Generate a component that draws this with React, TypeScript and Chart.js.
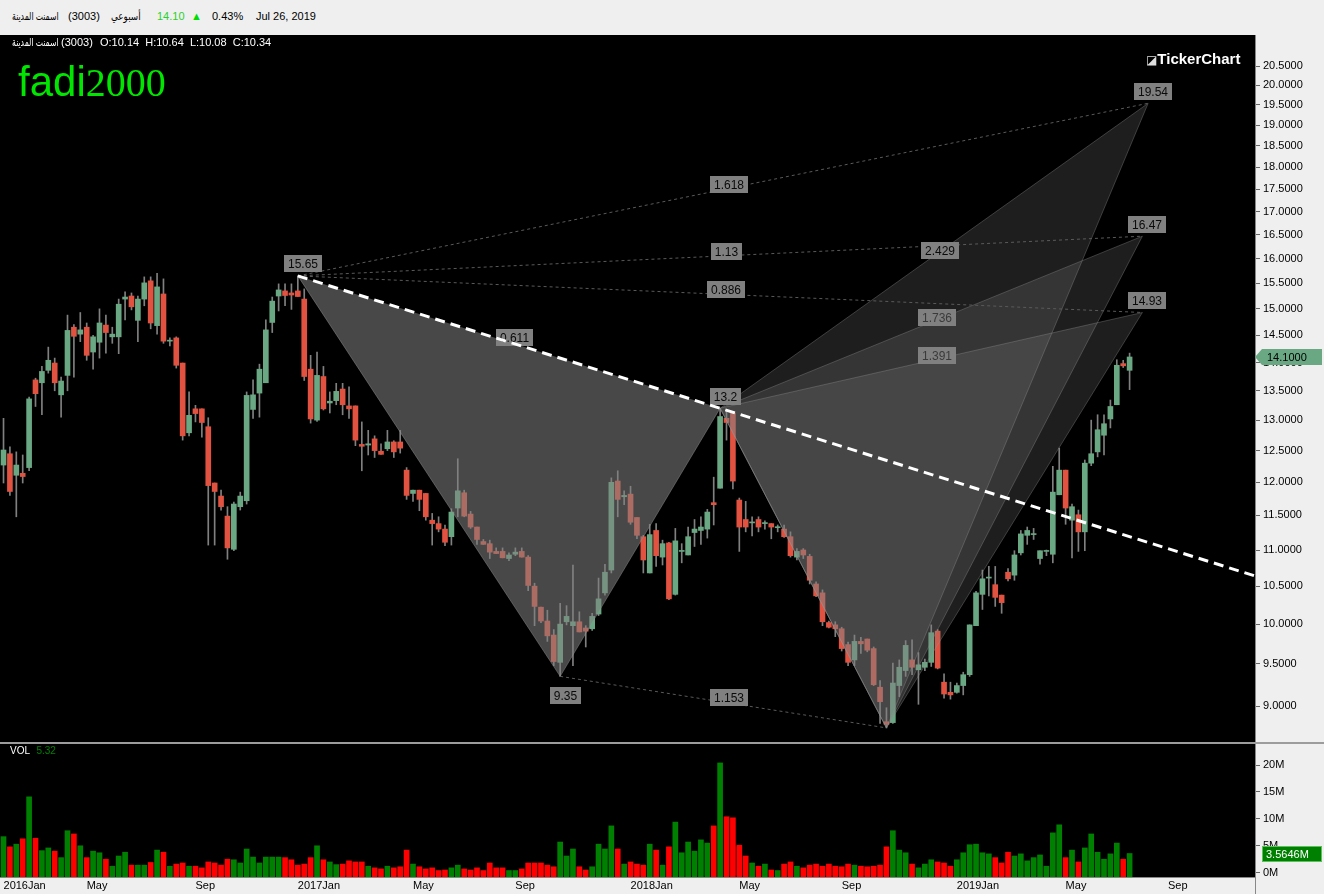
import React, { useEffect, useRef } from "react";
import { Chart, registerables } from "chart.js";

Chart.register(...registerables);

const FONT = '"Liberation Sans", "DejaVu Sans", Arial, sans-serif';

// ---------- weekly OHLC + volume (millions) ----------
const opens = [
  12.27, 12.45, 12.11, 12.14, 12.23, 13.69, 13.64, 13.86, 13.99, 13.43,
  13.77, 14.65, 14.52, 14.65, 14.19, 14.37, 14.69, 14.47, 14.47, 15.19,
  15.25, 14.78, 15.19, 15.55, 14.68, 15.29, 14.39, 14.45, 13.99, 12.79,
  13.19, 13.19, 12.89, 11.99, 11.79, 11.49, 11.01, 11.63, 11.72, 13.18,
  13.46, 13.64, 14.74, 15.25, 15.35, 15.31, 15.35, 15.19, 13.88, 13.0,
  13.75, 13.29, 13.33, 13.53, 13.24, 13.24, 12.6, 12.59, 12.69, 12.49,
  12.53, 12.64, 12.64, 12.19, 11.83, 11.88, 11.83, 11.43, 11.38, 11.3,
  11.19, 11.61, 11.84, 11.52, 11.33, 11.12, 11.09, 10.98, 10.98, 10.88,
  10.94, 10.98, 10.9, 10.5, 10.22, 10.04, 9.86, 9.52, 10.03, 9.98,
  10.03, 9.95, 9.94, 10.13, 10.41, 10.72, 12.02, 11.78, 11.82, 11.47,
  11.19, 10.68, 11.28, 10.9, 11.1, 10.39, 10.98, 10.93, 11.25, 11.28,
  11.3, 11.69, 11.91, 13.03, 13.12, 11.73, 11.44, 11.39, 11.44, 11.38,
  11.38, 11.32, 11.3, 11.19, 10.9, 11.0, 10.91, 10.53, 10.41, 10.02,
  9.99, 9.94, 9.74, 9.55, 9.78, 9.81, 9.69, 9.22, 8.82, 8.81,
  9.24, 9.42, 9.55, 9.43, 9.46, 9.52, 9.91, 9.28, 9.16, 9.16,
  9.24, 9.37, 9.98, 10.39, 10.61, 10.52, 10.38, 10.69, 10.65, 10.96,
  11.21, 11.22, 10.88, 10.98, 10.94, 11.81, 12.19, 11.43, 11.51, 11.26,
  12.3, 12.48, 12.75, 13.02, 13.26, 13.98, 13.86,
];
const highs = [
  13.03, 12.56, 12.48, 12.43, 13.39, 13.72, 13.93, 14.28, 14.08, 13.74,
  14.88, 14.7, 14.93, 14.73, 14.5, 15.0, 14.88, 14.65, 15.19, 15.33,
  15.31, 15.25, 15.63, 15.63, 15.7, 15.59, 14.45, 14.47, 13.99, 13.48,
  13.25, 13.19, 13.04, 11.99, 11.88, 11.63, 11.7, 11.85, 13.48, 13.69,
  13.97, 14.79, 15.23, 15.49, 15.49, 15.49, 15.65, 15.39, 14.13, 14.19,
  13.93, 13.48, 13.63, 13.63, 13.57, 13.24, 12.97, 12.83, 12.74, 12.61,
  12.83, 12.66, 12.83, 12.23, 11.88, 11.88, 11.83, 11.53, 11.48, 11.36,
  11.6, 12.37, 11.88, 11.56, 11.33, 11.15, 11.14, 11.03, 11.03, 10.96,
  11.03, 11.03, 10.92, 10.54, 10.22, 10.18, 9.93, 10.27, 10.24, 10.79,
  10.16, 9.98, 10.14, 10.61, 10.8, 12.07, 12.18, 11.87, 11.94, 11.47,
  11.21, 11.37, 11.38, 11.14, 11.11, 11.31, 11.09, 11.33, 11.44, 11.48,
  11.59, 12.08, 13.2, 13.17, 13.12, 11.76, 11.71, 11.48, 11.48, 11.42,
  11.38, 11.36, 11.36, 11.26, 11.02, 11.02, 10.94, 10.56, 10.45, 10.04,
  10.03, 9.96, 9.77, 9.86, 9.83, 9.81, 9.71, 9.3, 8.98, 9.51,
  9.55, 9.79, 9.8, 9.64, 9.56, 9.99, 9.93, 9.38, 9.28, 9.27,
  9.4, 9.99, 10.43, 10.72, 10.77, 10.77, 10.38, 10.74, 10.99, 11.28,
  11.33, 11.31, 10.99, 11.0, 12.25, 12.54, 12.19, 11.67, 11.58, 12.35,
  13.0, 13.09, 13.09, 13.34, 14.05, 14.04, 14.17,
];
const lows = [
  11.99, 11.8, 11.48, 11.99, 12.18, 13.23, 13.09, 13.81, 13.5, 13.05,
  13.5, 13.74, 14.38, 14.04, 13.88, 14.08, 14.17, 14.35, 14.16, 14.79,
  14.98, 14.38, 15.06, 14.62, 14.52, 14.35, 14.3, 13.9, 12.67, 12.74,
  12.97, 12.72, 11.07, 11.07, 11.58, 10.87, 10.99, 11.58, 11.67, 13.03,
  13.05, 13.64, 14.55, 14.96, 15.06, 14.99, 15.24, 13.68, 12.95, 12.98,
  13.17, 13.12, 13.26, 13.09, 13.03, 12.58, 12.18, 12.43, 12.39, 12.44,
  12.5, 12.39, 12.46, 11.74, 11.71, 11.57, 11.43, 11.07, 11.26, 11.06,
  11.07, 11.48, 11.48, 11.31, 11.08, 11.08, 10.88, 10.95, 10.89, 10.85,
  10.92, 10.9, 10.44, 9.98, 10.02, 9.78, 9.48, 9.35, 9.99, 9.48,
  9.9, 9.71, 9.92, 10.11, 10.38, 10.68, 11.48, 11.66, 11.37, 11.16,
  10.68, 10.68, 10.77, 10.79, 10.32, 10.38, 10.82, 10.93, 11.05, 11.08,
  11.17, 11.36, 11.91, 12.67, 11.9, 10.98, 11.26, 11.2, 11.26, 11.3,
  11.16, 11.26, 11.18, 10.9, 10.86, 10.88, 10.53, 10.36, 9.98, 9.95,
  9.84, 9.66, 9.48, 9.48, 9.63, 9.65, 9.24, 8.8, 8.75, 8.8,
  9.11, 9.35, 9.37, 9.02, 9.42, 9.47, 9.44, 9.09, 9.08, 9.15,
  9.13, 9.35, 9.98, 10.19, 10.37, 10.23, 10.14, 10.57, 10.58, 10.93,
  11.08, 11.15, 10.8, 10.92, 10.82, 11.81, 11.37, 10.89, 10.98, 10.99,
  12.26, 12.4, 12.43, 12.87, 13.26, 13.91, 13.52,
];
const closes = [
  12.51, 11.86, 12.27, 12.09, 13.36, 13.45, 13.84, 14.04, 13.64, 13.67,
  14.59, 14.48, 14.6, 14.13, 14.47, 14.73, 14.55, 14.52, 15.09, 15.23,
  15.04, 15.19, 15.51, 14.73, 15.43, 14.39, 14.39, 13.95, 12.74, 13.08,
  13.11, 12.96, 11.95, 11.86, 11.63, 11.03, 11.67, 11.79, 13.42, 13.43,
  13.88, 14.6, 15.15, 15.37, 15.26, 15.27, 15.24, 13.75, 13.02, 13.77,
  13.19, 13.32, 13.49, 13.26, 13.19, 12.67, 12.57, 12.61, 12.5, 12.44,
  12.64, 12.48, 12.54, 11.8, 11.88, 11.74, 11.48, 11.38, 11.3, 11.11,
  11.55, 11.87, 11.49, 11.33, 11.15, 11.08, 10.97, 10.95, 10.89, 10.93,
  10.97, 10.9, 10.51, 10.23, 10.04, 9.85, 9.53, 10.0, 10.1, 10.03,
  9.9, 9.91, 10.1, 10.33, 10.69, 12.0, 11.74, 11.8, 11.4, 11.21,
  10.86, 11.22, 10.92, 11.09, 10.33, 11.13, 10.99, 11.19, 11.3, 11.33,
  11.55, 11.66, 13.06, 12.96, 12.02, 11.33, 11.33, 11.4, 11.33, 11.39,
  11.33, 11.33, 11.19, 10.92, 10.98, 10.93, 10.58, 10.37, 10.03, 9.96,
  9.94, 9.69, 9.52, 9.78, 9.75, 9.67, 9.25, 9.05, 8.79, 9.27,
  9.46, 9.73, 9.46, 9.49, 9.52, 9.89, 9.45, 9.14, 9.13, 9.24,
  9.37, 9.99, 10.41, 10.6, 10.62, 10.35, 10.28, 10.6, 10.93, 11.23,
  11.28, 11.23, 10.99, 10.98, 11.85, 12.19, 11.61, 11.63, 11.26, 12.3,
  12.45, 12.84, 12.94, 13.23, 13.95, 13.94, 14.1,
];
const volumesM = [
  6.7, 4.8, 5.3, 6.3, 14.1, 6.4, 4.1, 4.6, 4.0, 2.8,
  7.8, 7.2, 5.0, 2.8, 4.0, 3.7, 2.5, 1.2, 3.1, 3.8,
  1.4, 1.4, 1.4, 1.9, 4.2, 3.8, 1.2, 1.6, 1.8, 1.2,
  1.2, 0.9, 2.0, 1.8, 1.4, 2.5, 2.4, 1.8, 4.4, 2.9,
  1.8, 2.9, 2.9, 2.9, 2.8, 2.4, 1.4, 1.6, 2.8, 5.0,
  2.4, 2.0, 1.5, 1.6, 2.2, 2.0, 2.0, 1.2, 0.9, 0.7,
  1.2, 0.9, 1.1, 4.2, 1.6, 1.1, 0.7, 0.9, 0.4, 0.5,
  0.9, 1.4, 0.7, 0.5, 0.9, 0.4, 1.8, 0.9, 0.9, 0.4,
  0.4, 0.7, 1.8, 1.8, 1.8, 1.4, 1.1, 5.7, 3.1, 4.4,
  1.1, 0.5, 1.1, 5.3, 4.4, 8.7, 4.4, 1.6, 2.0, 1.6,
  1.4, 5.3, 4.2, 1.4, 4.8, 9.4, 3.7, 5.7, 4.0, 6.1,
  5.5, 8.7, 20.4, 10.4, 10.2, 5.1, 3.1, 1.8, 1.2, 1.6,
  0.5, 0.4, 1.6, 2.0, 1.2, 0.9, 1.4, 1.6, 1.2, 1.6,
  1.2, 1.1, 1.6, 1.4, 1.2, 1.1, 1.2, 1.4, 4.8, 7.8,
  4.2, 3.7, 1.6, 0.9, 1.6, 2.4, 2.0, 1.8, 1.2, 2.4,
  3.7, 5.2, 5.3, 3.7, 3.5, 2.8, 1.8, 3.8, 3.1, 3.5,
  2.2, 2.8, 3.3, 1.2, 7.4, 8.9, 2.8, 4.2, 2.0, 4.6,
  7.2, 3.8, 2.5, 3.5, 5.5, 2.5, 3.5646,
];

// ---------- axis ticks ----------
const monthTickIdx = [0, 13, 30, 46, 64, 80, 98, 115, 131, 149, 166, 182];
const monthTickLabels = ["2016Jan", "May", "Sep", "2017Jan", "May", "Sep", "2018Jan", "May", "Sep", "2019Jan", "May", "Sep"];
const priceTicks = [9, 9.5, 10, 10.5, 11, 11.5, 12, 12.5, 13, 13.5, 14, 14.5, 15, 15.5, 16, 16.5, 17, 17.5, 18, 18.5, 19, 19.5, 20, 20.5];
const volTicksM = [0, 5, 10, 15, 20];

// ---------- harmonic pattern ----------
const pivotIdx = [46, 87, 112, 138]; // X, A, B, C
const pivotPrice = [15.65, 9.35, 13.2, 8.75];
const targetIdx = [178.9, 178, 178]; // D projections
const targetPrice = [19.54, 16.47, 14.93];
const xdRatios = ["1.618", "1.13", "0.886"];
const bdRatios = ["2.429", "1.736", "1.391"];
const xbRatio = "0.611";
const acRatio = "1.153";

// ---------- axis ranges ----------
const X_MIN = -0.55;
const X_MAX = 195.6;
const P_MIN = 8.593;
const P_MAX = 21.334;
const V_MIN = -0.8;
const V_MAX = 23.92;

const GREEN = "#69a883";
const RED = "#e25240";
const WICK = "#808080";

const n = closes.length;
const idx = closes.map((_, i) => i);
const isUp = idx.map((i) => closes[i] >= opens[i]);

const P = (x: number, y: number) => ({ x, y });
const ptX = P(pivotIdx[0], pivotPrice[0]);
const ptA = P(pivotIdx[1], pivotPrice[1]);
const ptB = P(pivotIdx[2], pivotPrice[2]);
const ptC = P(pivotIdx[3], pivotPrice[3]);
const ptD = targetIdx.map((x, k) => P(x, targetPrice[k]));

const trendSlope = (Math.log(ptB.y) - Math.log(ptX.y)) / (ptB.x - ptX.x);
const trendEnd = P(X_MAX, Math.exp(Math.log(ptX.y) + trendSlope * (X_MAX - ptX.x)));

const bgPlugin = {
  id: "bgPlugin",
  beforeDraw(chart: any) {
    const { ctx, chartArea: a } = chart;
    ctx.save();
    ctx.fillStyle = "#efefef";
    ctx.fillRect(0, 0, chart.width, chart.height);
    ctx.fillStyle = "#000";
    ctx.fillRect(a.left, a.top, a.right - a.left, a.bottom - a.top);
    ctx.restore();
  },
};

function labelBox(ctx: any, text: string, cx: number, cy: number, color = "#0a0a0a") {
  ctx.font = `12px ${FONT}`;
  const w = Math.round(ctx.measureText(text).width + 8);
  const h = 17;
  const l = Math.round(cx - w / 2);
  const t = Math.round(cy - h / 2);
  ctx.fillStyle = "#808080";
  ctx.fillRect(l, t, w, h);
  ctx.fillStyle = color;
  ctx.textAlign = "center";
  ctx.textBaseline = "middle";
  ctx.fillText(text, l + w / 2, t + h / 2 + 1);
}

function drawPatternLabels(chart: any) {
  const xs = chart.scales.x;
  const ys = chart.scales.y;
  const ctx = chart.ctx;
  const px = (p: any) => ({ x: xs.getPixelForValue(p.x), y: ys.getPixelForValue(p.y) });
  const mid = (a: any, b: any) => {
    const pa = px(a);
    const pb = px(b);
    return { x: (pa.x + pb.x) / 2 + 6, y: (pa.y + pb.y) / 2 - 5 };
  };
  ctx.save();
  let m = mid(ptX, ptB);
  labelBox(ctx, xbRatio, m.x, m.y);
  xdRatios.forEach((r, k) => {
    const q = mid(ptX, ptD[k]);
    labelBox(ctx, r, q.x, q.y);
  });
  bdRatios.forEach((r, k) => {
    const q = mid(ptB, ptD[k]);
    labelBox(ctx, r, q.x, q.y, k === 0 ? "#0a0a0a" : "#3a3a3a");
  });
  m = mid(ptA, ptC);
  labelBox(ctx, acRatio, m.x, m.y);
  const above = [ptX, ptB, ...ptD];
  above.forEach((p) => {
    const q = px(p);
    labelBox(ctx, String(p.y), q.x + 5, q.y - 12);
  });
  const qa = px(ptA);
  labelBox(ctx, String(ptA.y), qa.x + 5, qa.y + 19);
  ctx.restore();
}

const lineBase = { type: "line", pointRadius: 0, pointHoverRadius: 0, tension: 0 };

function priceConfig(): any {
  const datasets: any[] = [
    {
      type: "bar",
      data: idx.map((i) => ({ x: i, y: [lows[i], highs[i]] })),
      backgroundColor: WICK,
      barThickness: 1,
      grouped: false,
      order: 20,
    },
    {
      type: "bar",
      data: idx.map((i) => ({ x: i, y: [opens[i], closes[i]] })),
      backgroundColor: idx.map((i) => (isUp[i] ? GREEN : RED)),
      barThickness: 5,
      minBarLength: 1,
      grouped: false,
      order: 19,
    },
    {
      ...lineBase,
      data: [ptX, ptA, ptB],
      fill: "shape",
      backgroundColor: "rgba(128,128,128,0.56)",
      borderColor: "rgba(150,150,150,0.45)",
      borderWidth: 1,
      order: 10,
    },
    ...ptD.map((d) => ({
      ...lineBase,
      data: [ptB, ptC, d],
      fill: "shape",
      backgroundColor: "rgba(128,128,128,0.23)",
      borderColor: "rgba(150,150,150,0.35)",
      borderWidth: 1,
      order: 10,
    })),
    ...ptD.map((d) => ({
      ...lineBase,
      data: [ptB, d],
      fill: false,
      borderColor: "rgba(150,150,150,0.35)",
      borderWidth: 1,
      order: 9,
    })),
    ...ptD.map((d) => ({
      ...lineBase,
      data: [ptX, d],
      fill: false,
      borderColor: "#5a5a5a",
      borderWidth: 1,
      borderDash: [3, 3],
      order: 8,
    })),
    {
      ...lineBase,
      data: [ptA, ptC],
      fill: false,
      borderColor: "#5a5a5a",
      borderWidth: 1,
      borderDash: [3, 3],
      order: 8,
    },
  ];
  const trendIndex = datasets.length;
  datasets.push({
    ...lineBase,
    data: [ptX, trendEnd],
    fill: false,
    borderColor: "#ffffff",
    borderWidth: 3,
    borderDash: [10, 6],
    order: 1,
  });

  const labelsPlugin = {
    id: "patternLabels",
    beforeDatasetDraw(chart: any, args: any) {
      if (args.index === trendIndex) drawPatternLabels(chart);
    },
  };

  const markerPlugin = {
    id: "priceMarker",
    afterDraw(chart: any) {
      const { ctx } = chart;
      const y = chart.scales.y.getPixelForValue(closes[n - 1]);
      const x0 = chart.chartArea.right;
      ctx.save();
      ctx.fillStyle = GREEN;
      ctx.beginPath();
      ctx.moveTo(x0, y);
      ctx.lineTo(x0 + 7, y - 8);
      ctx.lineTo(x0 + 67, y - 8);
      ctx.lineTo(x0 + 67, y + 8);
      ctx.lineTo(x0 + 7, y + 8);
      ctx.closePath();
      ctx.fill();
      ctx.fillStyle = "#000";
      ctx.font = `11px ${FONT}`;
      ctx.textAlign = "left";
      ctx.textBaseline = "middle";
      ctx.fillText(closes[n - 1].toFixed(4), x0 + 12, y + 1);
      ctx.restore();
    },
  };

  return {
    type: "bar",
    data: { datasets },
    options: {
      animation: false,
      responsive: false,
      devicePixelRatio: 1,
      events: [],
      layout: { padding: 0 },
      plugins: { legend: { display: false }, tooltip: { enabled: false } },
      scales: {
        x: {
          type: "linear",
          min: X_MIN,
          max: X_MAX,
          offset: false,
          display: false,
        },
        y: {
          type: "logarithmic",
          position: "right",
          min: P_MIN,
          max: P_MAX,
          afterBuildTicks: (s: any) => {
            s.ticks = priceTicks.map((v) => ({ value: v }));
          },
          afterFit: (s: any) => {
            s.width = 69;
            s.paddingTop = 0;
            s.paddingBottom = 0;
          },
          grid: { drawOnChartArea: false, drawTicks: true, tickLength: 5, color: "#666" },
          border: { display: true, color: "#888" },
          ticks: {
            padding: 3,
            color: "#000",
            font: { family: FONT, size: 11 },
            autoSkip: false,
            callback: (v: any) => Number(v).toFixed(4),
          },
        },
      },
    },
    plugins: [bgPlugin, labelsPlugin, markerPlugin],
  };
}

function volConfig(): any {
  const markerPlugin = {
    id: "volMarker",
    afterDraw(chart: any) {
      const { ctx } = chart;
      const y = chart.scales.y.getPixelForValue(volumesM[n - 1]);
      const x0 = chart.chartArea.right;
      ctx.save();
      ctx.fillStyle = "#008000";
      ctx.fillRect(x0 + 7, Math.round(y - 8), 60, 16);
      ctx.strokeStyle = "#5fbf5f";
      ctx.lineWidth = 1;
      ctx.strokeRect(x0 + 7.5, Math.round(y - 8) + 0.5, 59, 15);
      ctx.fillStyle = "#fff";
      ctx.font = `11px ${FONT}`;
      ctx.textAlign = "left";
      ctx.textBaseline = "middle";
      ctx.fillText(volumesM[n - 1].toFixed(4) + "M", x0 + 11, y + 1);
      ctx.restore();
    },
  };
  return {
    type: "bar",
    data: {
      datasets: [
        {
          data: idx.map((i) => ({ x: i, y: volumesM[i] })),
          backgroundColor: idx.map((i) => (isUp[i] ? "#008000" : "#ff0000")),
          barThickness: 5,
          base: V_MIN,
          grouped: false,
        },
      ],
    },
    options: {
      animation: false,
      responsive: false,
      devicePixelRatio: 1,
      events: [],
      layout: { padding: 0 },
      plugins: { legend: { display: false }, tooltip: { enabled: false } },
      scales: {
        x: {
          type: "linear",
          min: X_MIN,
          max: X_MAX,
          offset: false,
          grid: { display: false, drawTicks: false, tickLength: 0 },
          border: { display: true, color: "#888" },
          afterBuildTicks: (s: any) => {
            s.ticks = monthTickIdx.map((v) => ({ value: v }));
          },
          afterFit: (s: any) => {
            s.height = 17;
            s.paddingLeft = 0;
            s.paddingRight = 0;
          },
          ticks: {
            autoSkip: false,
            maxRotation: 0,
            minRotation: 0,
            align: "start",
            padding: 2,
            color: "#000",
            font: { family: FONT, size: 11 },
            callback: (_v: any, i: number) => monthTickLabels[i],
          },
        },
        y: {
          type: "linear",
          position: "right",
          min: V_MIN,
          max: V_MAX,
          afterBuildTicks: (s: any) => {
            s.ticks = volTicksM.map((v) => ({ value: v }));
          },
          afterFit: (s: any) => {
            s.width = 69;
            s.paddingTop = 0;
            s.paddingBottom = 0;
          },
          grid: { drawOnChartArea: false, drawTicks: true, tickLength: 5, color: "#666" },
          border: { display: true, color: "#888" },
          ticks: {
            padding: 3,
            color: "#000",
            font: { family: FONT, size: 11 },
            autoSkip: false,
            callback: (v: any) => `${v}M`,
          },
        },
      },
    },
    plugins: [bgPlugin, markerPlugin],
  };
}

const abs = (left: number, top: number, extra: any = {}) => ({
  position: "absolute" as const,
  left,
  top,
  whiteSpace: "pre" as const,
  ...extra,
});

const squeeze = (k: number) => ({
  display: "inline-block",
  transform: `scaleX(${k})`,
  transformOrigin: "left center",
});

export default function App() {
  const priceRef = useRef<HTMLCanvasElement>(null);
  const volRef = useRef<HTMLCanvasElement>(null);

  useEffect(() => {
    const pc = new Chart(priceRef.current as HTMLCanvasElement, priceConfig());
    const vc = new Chart(volRef.current as HTMLCanvasElement, volConfig());
    return () => {
      pc.destroy();
      vc.destroy();
    };
  }, []);

  const hdr = { fontSize: 11, lineHeight: "14px", color: "#000" };
  const ovl = { fontSize: 11, lineHeight: "14px", color: "#fff" };

  return (
    <div
      style={{
        position: "absolute",
        left: 0,
        top: 0,
        width: 1324,
        height: 894,
        background: "#efefef",
        overflow: "hidden",
        fontFamily: FONT,
      }}
    >
      {/* header bar */}
      <div style={abs(12, 9, { ...hdr, ...squeeze(0.7) })} dir="rtl">اسمنت المدينة</div>
      <div style={abs(68, 9, hdr)}>(3003)</div>
      <div style={abs(111, 9, { ...hdr, ...squeeze(0.8) })} dir="rtl">أسبوعي</div>
      <div style={abs(157, 9, { ...hdr, color: "#2ccf2c" })}>{closes[n - 1].toFixed(2)}</div>
      <div style={abs(191, 9, { ...hdr, color: "#00dd00" })}>▲</div>
      <div style={abs(212, 9, hdr)}>0.43%</div>
      <div style={abs(256, 9, hdr)}>Jul 26, 2019</div>

      <canvas
        ref={priceRef}
        width={1324}
        height={707}
        style={{ position: "absolute", left: 0, top: 35, width: 1324, height: 707 }}
      />
      <div style={{ position: "absolute", left: 0, top: 742, width: 1324, height: 2, background: "#9c9c9c" }} />
      <canvas
        ref={volRef}
        width={1324}
        height={150}
        style={{ position: "absolute", left: 0, top: 744, width: 1324, height: 150 }}
      />
      <div style={{ position: "absolute", left: 1255, top: 877, width: 1, height: 17, background: "#888" }} />

      {/* overlays inside the plot */}
      <div style={abs(12, 35, { ...ovl, ...squeeze(0.7) })} dir="rtl">اسمنت المدينة</div>
      <div style={abs(61, 35, ovl)}>(3003)</div>
      <div style={abs(100, 35, ovl)}>O:10.14  H:10.64  L:10.08  C:10.34</div>
      <div style={abs(18, 61, { fontSize: 42, lineHeight: 1, color: "#00e600" })}>
        fadi<span style={{ fontFamily: '"Liberation Serif", "DejaVu Serif", serif', fontSize: 40 }}>2000</span>
      </div>
      <div style={abs(1146, 51, { fontSize: 15, lineHeight: "16px", color: "#fff", fontWeight: "bold" })}>
        <span style={{ fontSize: 12, fontWeight: "normal", color: "#ddd" }}>◪</span>TickerChart
      </div>
      <div style={abs(10, 745, { fontSize: 10, lineHeight: "12px", color: "#fff" })}>
        VOL <span style={{ color: "#008000", marginLeft: 4 }}>5.32</span>
      </div>
    </div>
  );
}
